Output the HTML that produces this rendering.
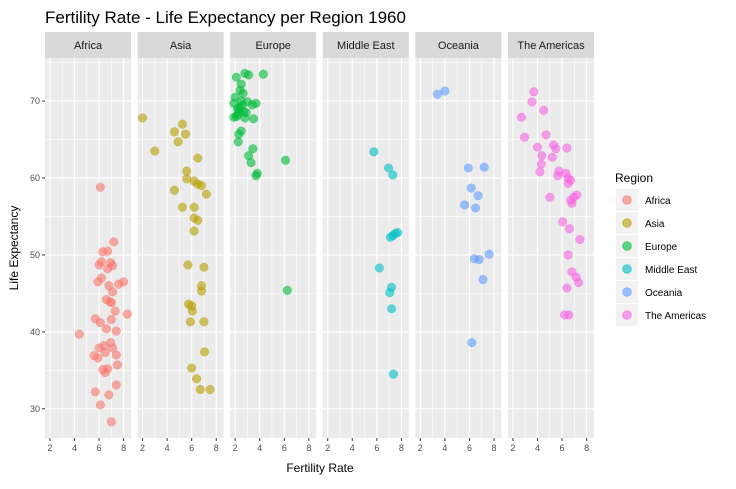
<!DOCTYPE html>
<html><head><meta charset="utf-8"><style>
body{margin:0;background:#fff;font-family:"Liberation Sans",sans-serif}
svg text{font-family:"Liberation Sans",sans-serif}
</style></head><body>
<svg id="c" width="736" height="484" xmlns="http://www.w3.org/2000/svg"></svg>
<script>
const regions=["Africa","Asia","Europe","Middle East","Oceania","The Americas"];
const colors=["#F8766D","#B79F00","#00BA38","#00BFC4","#619CFF","#F564E3"];
const xTicks=[2,4,6,8];
const yTicks=[30,40,50,60,70];
const africaFert=[6.1,7.2,6.3,6.7,6.0,6.2,6.95,6.7,7.1,5.9,6.2,6.8,7.6,8.0,7.1,6.6,6.9,7.0,7.3,8.3,5.7,6.1,7.0,6.6,7.4,4.4,6.0,6.4,6.95,7.1,6.5,7.4,5.6,5.9,6.3,6.7,6.5,7.5,7.4,5.7,6.8,6.1,7.0];
const africaLife=[58.8,51.7,50.4,50.5,48.7,49.1,49.0,48.2,48.6,46.5,47.0,46.0,46.2,46.5,45.2,44.2,43.9,43.8,42.7,42.3,41.7,41.2,41.6,40.4,40.1,39.7,37.9,38.2,38.6,37.9,37.3,37.0,36.9,36.6,35.1,35.2,34.7,35.7,33.1,32.2,31.8,30.5,28.3];
const asiaFert=[2.0,5.25,4.6,5.5,4.9,3.0,6.5,5.6,5.6,6.2,6.5,6.8,7.2,4.6,5.25,6.2,6.2,6.5,6.2,5.7,7.0,6.8,6.8,5.75,6.0,6.05,5.9,7.0,7.05,6.0,6.4,6.7,7.5];
const asiaLife=[67.8,67.0,66.0,65.7,64.7,63.5,62.6,60.9,59.9,59.6,59.2,59.0,57.9,58.4,56.2,56.2,54.8,54.5,53.1,48.7,48.4,46.0,45.3,43.6,43.4,42.7,41.3,41.3,37.4,35.3,33.9,32.5,32.5];
const europeFert=[2.1,2.8,3.1,4.3,2.5,2.4,2.65,2.0,1.9,2.4,2.3,2.6,2.2,2.7,3.0,3.7,3.4,1.9,2.2,2.8,3.5,2.5,2.3,2.25,3.45,3.1,3.3,6.1,3.8,3.7,6.25,2.5,2.9,2.1];
const europeLife=[73.1,73.6,73.4,73.5,72.2,71.4,71.0,70.5,69.7,69.2,68.8,69.5,69.0,68.6,69.9,69.7,69.5,67.9,68.2,67.8,67.7,66.1,65.7,64.7,63.8,62.9,62.0,62.3,60.6,60.3,45.4,70.0,68.5,68.0];
const meFert=[5.75,6.95,7.3,7.7,7.1,7.5,7.3,6.2,7.2,7.05,7.2,7.35];
const meLife=[63.4,61.3,60.4,52.9,52.3,52.8,52.5,48.3,45.8,45.1,43.0,34.5];
const oceFert=[3.4,4.0,5.9,7.2,6.15,6.7,5.6,6.5,6.4,6.8,7.6,7.1,6.2];
const oceLife=[70.9,71.3,61.3,61.4,58.7,57.7,56.5,56.1,49.5,49.4,50.1,46.8,38.6];
const amFert=[3.7,3.55,4.5,2.7,2.95,4.7,4.0,5.3,5.5,6.4,4.35,5.2,4.3,4.2,5.75,5.65,6.3,6.5,6.7,6.5,5.0,7.2,6.95,6.7,6.8,6.05,6.6,7.45,6.5,6.8,7.15,7.35,6.4,6.2,6.55];
const amLife=[71.2,69.9,68.8,67.9,65.3,65.6,64.0,64.3,63.8,63.9,62.9,62.7,61.8,60.8,60.9,60.3,60.6,60.0,59.7,59.3,57.5,57.8,57.5,57.1,56.7,54.3,53.4,52.0,50.0,47.8,47.1,46.4,45.7,42.2,42.2];
const fertSeries=[africaFert,asiaFert,europeFert,meFert,oceFert,amFert];
const lifeSeries=[africaLife,asiaLife,europeLife,meLife,oceLife,amLife];

const NS="http://www.w3.org/2000/svg";
const svg=document.getElementById('c');
function mk(tag,attrs,parent){const e=document.createElementNS(NS,tag);for(const k in attrs)e.setAttribute(k,attrs[k]);(parent||svg).appendChild(e);return e;}
const PT=58,PB=438,PW=86,XMIN=1.6,XMAX=8.6,YMIN=26.2,YMAX=75.6;
function panelX(i){return 45+i*92.6;}
function xs(i,v){return panelX(i)+(v-XMIN)/(XMAX-XMIN)*PW;}
function ys(v){return PB-(v-YMIN)/(YMAX-YMIN)*(PB-PT);}

let t=mk('text',{x:45,y:23,'font-size':17,fill:'#000'});t.textContent="Fertility Rate - Life Expectancy per Region 1960";



regions.forEach((r,i)=>{
  const px=panelX(i);
  const g=mk('g',{});
  
  
  const strip=mk('rect',{x:px,y:32,width:PW,height:26,fill:'#D9D9D9'},g);
  
  
  const st=mk('text',{x:px+PW/2,y:49,'font-size':11,fill:'#1A1A1A','text-anchor':'middle'},g);st.textContent=r;
  
  
  const bg=mk('rect',{x:px,y:PT,width:PW,height:PB-PT,fill:'#EBEBEB'},g);
  
  
  for(let v=35;v<=75;v+=10)mk('line',{x1:px,x2:px+PW,y1:ys(v),y2:ys(v),stroke:'#fff','stroke-width':0.6},g);
  for(let v=3;v<=7;v+=2)mk('line',{x1:xs(i,v),x2:xs(i,v),y1:PT,y2:PB,stroke:'#fff','stroke-width':0.6},g);
  yTicks.forEach(v=>mk('line',{x1:px,x2:px+PW,y1:ys(v),y2:ys(v),stroke:'#fff','stroke-width':1.2},g));
  xTicks.forEach(v=>{
    mk('line',{x1:xs(i,v),x2:xs(i,v),y1:PT,y2:PB,stroke:'#fff','stroke-width':1.2},g);
    mk('line',{x1:xs(i,v),x2:xs(i,v),y1:PB,y2:PB+3,stroke:'#333'},g);
    const tl=mk('text',{x:xs(i,v),y:PB+13,'font-size':9,fill:'#4D4D4D','text-anchor':'middle'},g);tl.textContent=v;
    
    
  });
  fertSeries[i].forEach((f,j)=>{
    const c=mk('circle',{cx:xs(i,f),cy:ys(lifeSeries[i][j]),r:4.3,fill:colors[i],'fill-opacity':0.6,stroke:colors[i],'stroke-opacity':0.6,'stroke-width':0.5},g);
    
    
  });
});
yTicks.forEach(v=>{
  mk('line',{x1:42,x2:45,y1:ys(v),y2:ys(v),stroke:'#333'});
  const tl=mk('text',{x:40,y:ys(v)+3,'font-size':9,fill:'#4D4D4D','text-anchor':'end'});tl.textContent=v;
  
  
});
t=mk('text',{x:320,y:472,'font-size':12,fill:'#000','text-anchor':'middle'});t.textContent="Fertility Rate";


t=mk('text',{x:0,y:0,'font-size':12,fill:'#000','text-anchor':'middle',transform:'translate(18,248) rotate(-90)'});t.textContent="Life Expectancy";


t=mk('text',{x:615,y:182,'font-size':12,fill:'#000'});t.textContent="Region";


regions.forEach((r,i)=>{
  const y=189+i*23;
  const g=mk('g',{});
  
  
  mk('rect',{x:616,y:y,width:22,height:22,fill:'#F2F2F2'},g);
  mk('circle',{cx:627,cy:y+11,r:4.3,fill:colors[i],'fill-opacity':0.6,stroke:colors[i],'stroke-opacity':0.6},g);
  const tx=mk('text',{x:645,y:y+15,'font-size':10,fill:'#000'},g);tx.textContent=r;
});
</script>
</body></html>
